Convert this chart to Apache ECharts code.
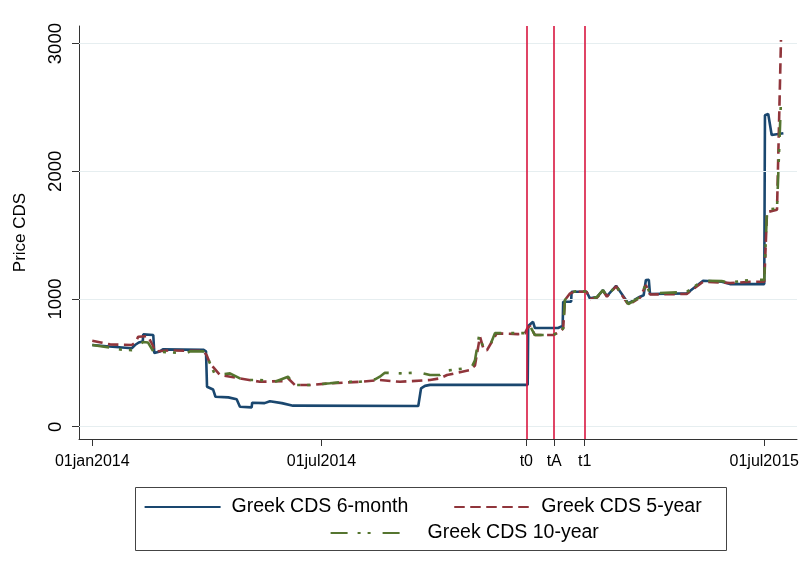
<!DOCTYPE html>
<html>
<head>
<meta charset="utf-8">
<script src="https://cdn.jsdelivr.net/npm/echarts@6/dist/echarts.min.js"></script>
<style>
html,body{margin:0;padding:0;background:#fff;}
#chart{width:804px;height:562px;}
</style>
</head>
<body>
<div id="chart"></div>
<script>
// x values are an observation (trading-day) index; 0 = 01jan2014
const xTickValues = [0, 133, 251.9, 268.1, 285.8, 390];
const xTickLabels = ['01jan2014', '01jul2014', 't0', 'tA', 't1', '01jul2015'];
const eventValues = [251.9, 268.1, 285.8];
const yTickValues = [0, 1000, 2000, 3000];

const x6m = [0, 10, 22.9, 24.8, 27, 29.3, 29.6, 35.4, 36.0, 39.3, 41, 64.4, 66.0, 66.6, 70.1, 71.0, 71.5, 79, 83.8, 85.7, 92.5, 92.8, 100, 103.1, 110, 116.5, 189.2, 190.8, 193.1, 196, 252.7, 253.0, 255.8, 256.9, 270.3, 271.4, 273.0, 273.3, 277.9, 278.2, 286.9, 288.8, 292.9, 296.4, 298.7, 304.0, 311.1, 317.9, 320, 321.3, 323.0, 323.7, 345, 354.5, 365.3, 370.1, 390, 390.4, 392.3, 394.3, 401.1];
const cds6m = [640, 628, 614, 640, 660, 668, 723, 718, 577, 590, 606, 603, 590, 313, 292, 290, 235, 230, 215, 156, 152, 188, 185, 200, 185, 165, 162, 300, 320, 328, 328, 789, 822, 773, 773, 785, 790, 979, 979, 1057, 1057, 1005, 1015, 1070, 1023, 1104, 966, 1018, 1030, 1149, 1150, 1039, 1044, 1143, 1135, 1117, 1117, 2439, 2449, 2284, 2298];

const x5y = [0, 5, 10.3, 22.9, 25, 26.7, 32.3, 35, 36.4, 45, 55, 64.4, 66.4, 68.3, 74.1, 85.7, 97.3, 111.8, 113.6, 117.6, 126.4, 137.9, 155.4, 166.9, 178.6, 196, 201.8, 205.9, 219.2, 222.1, 225.0, 227.3, 229.1, 234.7, 247.1, 251.1, 252.5, 254.0, 256.9, 267.4, 271.4, 273.3, 274.3, 277.2, 280.2, 286.9, 288.8, 292.9, 296.4, 298.7, 304.0, 311.1, 317.9, 321.3, 323.7, 345, 354.5, 365.3, 370.1, 382, 390, 391.6, 397.4, 399.7];
const cds5y = [673, 660, 645, 640, 660, 705, 710, 640, 590, 598, 595, 595, 560, 496, 405, 379, 352, 358, 380, 327, 327, 340, 352, 366, 352, 366, 379, 405, 444, 480, 705, 600, 600, 731, 725, 731, 770, 790, 718, 718, 744, 770, 992, 1044, 1057, 1057, 1000, 1010, 1065, 1018, 1100, 955, 1010, 1110, 1035, 1040, 1135, 1130, 1125, 1135, 1135, 1680, 1700, 3028];

const x10y = [0, 10, 16.1, 22.9, 24.8, 26.7, 29.6, 32.3, 35.4, 36.4, 54.8, 56.7, 64.4, 66.4, 68.3, 71.3, 79.9, 85.7, 88.6, 97.3, 106, 113.6, 117.6, 126.4, 137.9, 146.7, 155.4, 164.1, 166.9, 169.8, 178.6, 190, 196, 201.8, 204.7, 216.3, 220, 222.1, 224.4, 227.3, 231, 233.7, 251.1, 252.5, 254.0, 256.9, 267.4, 271.4, 273.3, 274.3, 277.2, 280.2, 286.9, 288.8, 292.9, 296.4, 298.7, 304.0, 311.1, 317.9, 321.3, 323.7, 345, 354.5, 365.3, 370.1, 382, 390, 391.6, 397.4, 399.7];
const cds10y = [640, 620, 605, 600, 610, 640, 663, 660, 590, 575, 575, 590, 590, 560, 496, 405, 418, 379, 366, 366, 352, 392, 327, 327, 340, 352, 352, 371, 392, 423, 418, 425, 405, 405, 438, 457, 460, 520, 705, 614, 640, 733, 733, 775, 790, 718, 718, 744, 770, 992, 1044, 1060, 1060, 1005, 1015, 1070, 1020, 1105, 960, 1015, 1115, 1045, 1055, 1145, 1140, 1130, 1150, 1150, 1700, 1710, 2557];

const seriesNames = ['Greek CDS 6-month', 'Greek CDS 5-year', 'Greek CDS 10-year'];

function pairs(xs, ys) { return xs.map((x, i) => [x, ys[i]]); }

const FONT = '"Liberation Sans", Arial, Helvetica, sans-serif';
const chart = echarts.init(document.getElementById('chart'), null, {renderer: 'canvas'});

chart.setOption({
  animation: false,
  backgroundColor: '#ffffff',
  grid: {left: 79, right: 7, top: 26, bottom: 123, containLabel: false},
  xAxis: {
    type: 'value', min: -7.7, max: 409,
    axisLine: {show: true, onZero: false, lineStyle: {color: '#333', width: 1}},
    axisTick: {show: true, length: 7, lineStyle: {color: '#333'}, customValues: xTickValues},
    axisLabel: {
      customValues: xTickValues, margin: 15, color: '#000', fontSize: 16, fontFamily: FONT,
      formatter: v => { const i = xTickValues.findIndex(t => Math.abs(t - v) < 1e-6); return i >= 0 ? xTickLabels[i] : ''; }
    },
    splitLine: {show: false}
  },
  yAxis: {
    type: 'value', min: -96, max: 3138,
    name: 'Price CDS', nameLocation: 'middle', nameGap: 50,
    nameTextStyle: {fontSize: 17, color: '#000', fontFamily: FONT},
    axisLine: {show: true, onZero: false, lineStyle: {color: '#333', width: 1}},
    axisTick: {show: true, length: 7, lineStyle: {color: '#333'}, customValues: yTickValues},
    axisLabel: {customValues: yTickValues, rotate: 90, margin: 14, color: '#000', fontSize: 18.5, fontFamily: FONT,
      formatter: v => String(v)},
    splitLine: {show: false}
  },
  legend: [
    {
      data: [seriesNames[0], seriesNames[1]], left: 143.6, top: 497, padding: 0,
      itemWidth: 76, itemHeight: 20, itemGap: 45, orient: 'horizontal',
      itemStyle: {opacity: 0},
      textStyle: {fontSize: 19.5, color: '#000', fontFamily: FONT, padding: [0, 0, 0, 6]}
    },
    {
      data: [seriesNames[2]], left: 329.6, top: 523, padding: 0,
      itemWidth: 76, itemHeight: 20,
      itemStyle: {opacity: 0},
      textStyle: {fontSize: 19.5, color: '#000', fontFamily: FONT, padding: [0, 0, 0, 16]}
    }
  ],
  graphic: [{
    type: 'rect', shape: {x: 135.5, y: 487.5, width: 591, height: 63},
    style: {fill: 'none', stroke: '#444', lineWidth: 1}, z: -1
  }],
  series: [
    {
      type: 'line', name: '_ref', data: [], z: 1, silent: true,
      markLine: {
        silent: true, symbol: 'none', label: {show: false},
        data: yTickValues.map(v => ({yAxis: v, lineStyle: {color: '#e6eef0', width: 1.2, type: 'solid'}}))
          .concat(eventValues.map(v => ({xAxis: v, lineStyle: {color: '#d8163f', width: 1.6, type: 'solid'}})))
      }
    },
    {
      type: 'line', name: seriesNames[0], data: pairs(x6m, cds6m), symbol: 'none', z: 3,
      color: '#1a476f', lineStyle: {color: '#1a476f', width: 2.6, type: 'solid'}
    },
    {
      type: 'line', name: seriesNames[1], data: pairs(x5y, cds5y), symbol: 'none', z: 4,
      color: '#90353b', lineStyle: {color: '#90353b', width: 2.6, type: [10.5, 5.5]}
    },
    {
      type: 'line', name: seriesNames[2], data: pairs(x10y, cds10y), symbol: 'none', z: 5,
      color: '#55752f', lineStyle: {color: '#55752f', width: 2.6, type: [17, 10, 3, 7, 3, 12]}
    }
  ]
});
</script>
</body>
</html>
